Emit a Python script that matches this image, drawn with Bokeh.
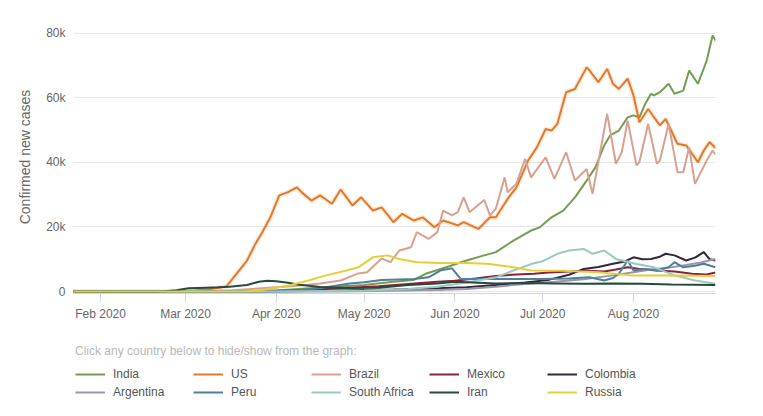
import pandas as pd
from bokeh.plotting import figure
from bokeh.layouts import column
from bokeh.models import (Legend, LegendItem, NumeralTickFormatter, FixedTicker,
                          DatetimeTickFormatter, MonthsTicker, Range1d)
from bokeh.embed import file_html
from bokeh.resources import INLINE

BASE = pd.Timestamp("2020-01-22")

# day offsets since 2020-01-22 and confirmed new cases (thousands)
india_days = [0, 50, 60, 70, 80, 90, 100, 110, 117, 121, 128, 135, 141, 145, 151, 157, 160, 164, 168, 172,
              176, 179, 182, 184, 187, 190, 192, 194, 196, 198, 199, 201, 204, 206, 209, 211, 214, 217, 219, 220]
india_vals = [0, 0, 0.1, 0.3, 0.9, 1.5, 2.0, 3.0, 3.6, 5.5, 7.5, 9.6, 11.2, 12.2, 15.8, 18.9, 19.9, 23, 25.1, 29.2,
              34.4, 38.5, 45.3, 48.4, 49.9, 54, 54.6, 54, 58.2, 61.3, 60.8, 61.8, 64.4, 61.3, 62.3, 68.5, 64.4, 71.6, 79.4, 77.8]

us_days = [0, 20, 35, 42, 47, 51, 53, 56, 60, 63, 65, 68, 71, 74, 77, 79, 82, 85, 89, 92, 96, 99, 103, 106, 110,
           113, 117, 120, 124, 127, 132, 134, 139, 143, 145, 149, 152, 156, 159, 162, 164, 166, 169, 172, 176, 177,
           180, 183, 185, 187, 190, 192, 194, 197, 201, 203, 207, 210, 214, 216, 218, 220]
us_vals = [0, 0, 0.05, 0.3, 0.7, 1.2, 1.6, 5, 9.6, 15, 18, 23, 29.8, 30.8, 32.3, 30.5, 28.2, 29.8, 27.2, 31.6, 26.7,
           29.2, 25.1, 26.1, 21.5, 24.1, 22, 23, 19.9, 22, 20.5, 21.5, 19.4, 23, 23, 28.7, 32.3, 40.6, 44.7, 50.4, 49.9,
           52, 61.8, 62.8, 69.5, 68.5, 64.9, 69, 64.4, 62.8, 66, 60.8, 52.5, 56.6, 51.5, 53.5, 45.8, 45.3, 40.1, 43.7,
           46.3, 44.5]

brazil_days = [0, 35, 45, 55, 65, 75, 80, 85, 92, 98, 101, 106, 109, 112, 116, 118, 122, 125, 127, 130, 132, 134,
               136, 141, 143, 145, 148, 149, 152, 155, 157, 162, 165, 169, 172, 176, 178, 183, 186, 188, 190, 193,
               194, 197, 200, 201, 204, 207, 209, 211, 213, 215, 217, 219, 220]
brazil_vals = [0, 0, 0.1, 0.4, 1.0, 1.6, 2.0, 2.5, 3.4, 5.6, 6, 10.2, 9.1, 12.7, 13.7, 18.4, 16.3, 18.4, 25.1, 23.6,
               24.6, 29.2, 24.6, 28.4, 23.6, 25.7, 35.4, 30.8, 33.4, 41.1, 35.4, 41.6, 34.9, 43.2, 34.4, 38, 30.3, 55.1,
               39.6, 43.2, 53, 39.1, 40.1, 52, 39.6, 40.6, 52, 37, 37, 44.7, 33.4, 37, 40.6, 43.7, 42.5]

mexico_days = [0, 60, 75, 85, 95, 105, 115, 125, 131, 138, 145, 152, 158, 163, 170, 176, 182, 186, 190, 194, 200,
               206, 212, 217, 220]
mexico_vals = [0, 0.1, 0.3, 0.7, 1.2, 1.6, 2.3, 3.0, 3.3, 4.0, 4.8, 5.3, 5.5, 5.9, 6.2, 6.4, 6.2, 6.8, 7.5, 7.0,
               6.5, 6.2, 5.5, 5.3, 5.9]

colombia_days = [0, 70, 90, 110, 125, 135, 145, 155, 163, 170, 175, 180, 185, 189, 192, 195, 198, 201, 203, 206,
                 210, 213, 216, 218, 220]
colombia_vals = [0, 0, 0.3, 0.6, 1.0, 1.3, 2.0, 2.8, 3.6, 5.2, 7.0, 7.6, 8.6, 9.3, 10.6, 10.0, 10.1, 10.8, 11.7,
                 11.2, 9.6, 10.5, 12.2, 10.0, 9.6]

argentina_days = [0, 90, 110, 125, 135, 145, 155, 165, 175, 185, 192, 198, 205, 210, 215, 220]
argentina_vals = [0, 0, 0.2, 0.5, 0.8, 1.5, 2.3, 3.0, 3.8, 5.0, 6.0, 6.8, 7.5, 8.2, 9.0, 10.1]

peru_days = [0, 60, 70, 78, 85, 95, 100, 106, 117, 122, 126, 130, 133, 140, 150, 160, 170, 177, 182, 185, 187,
             190, 192, 196, 200, 204, 206, 209, 213, 216, 220]
peru_vals = [0, 0, 0.1, 0.5, 1.0, 2.5, 2.9, 3.6, 3.9, 4.4, 6.5, 7.2, 3.9, 3.9, 3.9, 3.9, 4.0, 4.4, 3.4, 4.2, 5.5,
             9.6, 6.5, 7.0, 6.5, 7.5, 9.1, 7.5, 8.0, 8.6, 7.5]

safrica_days = [0, 70, 80, 100, 115, 125, 135, 145, 151, 157, 161, 166, 170, 175, 178, 182, 186, 193, 199, 206,
                213, 220]
safrica_vals = [0, 0, 0.1, 0.3, 0.8, 1.5, 2.8, 4.4, 6.5, 8.5, 9.4, 11.7, 12.7, 13.2, 11.7, 12.7, 10.1, 8.5, 7.5,
                5.0, 3.4, 2.4]

iran_days = [0, 28, 32, 36, 40, 46, 50, 54, 60, 64, 67, 70, 74, 78, 85, 95, 105, 115, 125, 131, 137, 145, 155,
             165, 175, 185, 195, 205, 220]
iran_vals = [0, 0, 0.1, 0.4, 1.0, 1.2, 1.3, 1.5, 2.0, 3.0, 3.3, 3.2, 2.7, 2.1, 1.4, 1.1, 1.2, 2.0, 2.5, 3.0, 2.8,
             2.5, 2.6, 2.5, 2.4, 2.5, 2.4, 2.2, 2.0]

russia_days = [0, 60, 65, 69, 75, 81, 87, 94, 98, 103, 108, 112, 118, 126, 135, 142, 151, 157, 168, 180, 191,
               205, 220]
russia_vals = [0, 0.1, 0.5, 1.0, 2.0, 3.4, 5.0, 6.5, 7.5, 10.6, 11.2, 10.1, 9.1, 8.8, 8.8, 8.6, 7.5, 6.5, 6.4, 6.0,
               5.0, 5.0, 4.8]

countries = ["India", "US", "Brazil", "Mexico", "Colombia", "Argentina", "Peru", "South Africa", "Iran", "Russia"]
colors = ["#769b52", "#e07a2a", "#d9a090", "#8b2338", "#33263a", "#9c97a8", "#4f7f9c", "#99cabd", "#264a3e",
          "#e3cf3a"]
series_days = [india_days, us_days, brazil_days, mexico_days, colombia_days, argentina_days, peru_days,
               safrica_days, iran_days, russia_days]
series_vals = [india_vals, us_vals, brazil_vals, mexico_vals, colombia_vals, argentina_vals, peru_vals,
               safrica_vals, iran_vals, russia_vals]

FONT = "Liberation Sans"

p = figure(width=763, height=330, x_axis_type="datetime", output_backend="svg", toolbar_location=None,
           x_range=Range1d(pd.Timestamp("2020-01-22 18:00"), pd.Timestamp("2020-08-29")),
           y_range=Range1d(-620, 84030),
           min_border_left=73, min_border_right=48, min_border_top=20, min_border_bottom=37)
p.outline_line_color = None
p.background_fill_color = "white"
p.border_fill_color = "white"

for name, d, v, c in zip(countries, series_days, series_vals, colors):
    xs = [BASE + pd.Timedelta(days=k) for k in d]
    ys = [val * 1000 for val in v]
    if name == "US":
        p.line(xs, ys, line_color=c, line_width=5, line_alpha=0.15)
    p.line(xs, ys, line_color=c, line_width=2)

# axes
p.xaxis.ticker = MonthsTicker(months=list(range(12)))
p.xaxis.formatter = DatetimeTickFormatter(months="%b %Y", days="%b %Y")
p.xaxis.axis_line_color = "#ccd6eb"
p.xaxis.major_tick_line_color = "#ccd6eb"
p.xaxis.major_tick_out = 9
p.xaxis.major_tick_in = 0
p.xaxis.minor_tick_line_color = None
p.xaxis.major_label_standoff = 4
p.xaxis.major_label_text_font = FONT
p.xaxis.major_label_text_font_size = "12px"
p.xaxis.major_label_text_color = "#666666"

p.yaxis.ticker = FixedTicker(ticks=[0, 20000, 40000, 60000, 80000])
p.yaxis.formatter = NumeralTickFormatter(format="0a")
p.yaxis.axis_line_color = None
p.yaxis.major_tick_line_color = None
p.yaxis.minor_tick_line_color = None
p.yaxis.major_label_standoff = 2
p.yaxis.major_label_text_font = FONT
p.yaxis.major_label_text_font_size = "12px"
p.yaxis.major_label_text_color = "#666666"
p.yaxis.axis_label = "Confirmed new cases"
p.yaxis.axis_label_text_font = FONT
p.yaxis.axis_label_text_font_size = "14px"
p.yaxis.axis_label_text_font_style = "normal"
p.yaxis.axis_label_text_color = "#666666"
p.yaxis.axis_label_standoff = 10

p.xgrid.grid_line_color = None
p.ygrid.grid_line_color = "#e6e6e6"
p.ygrid.ticker = FixedTicker(ticks=[0, 20000, 40000, 60000, 80000])

# legend panel below the chart: same series, drawn outside its visible range
lg = figure(width=763, height=86, output_backend="svg", toolbar_location=None,
            x_axis_location=None, y_axis_location=None, x_range=Range1d(0, 1), y_range=Range1d(-20, -19),
            min_border=0)
lg.outline_line_color = None
lg.grid.visible = False
items = []
for name, d, v, c in zip(countries, series_days, series_vals, colors):
    r = lg.line(d, v, line_color=c, line_width=2)
    items.append(LegendItem(label=name, renderers=[r]))

legend = Legend(items=items, location=(2, 15), orientation="horizontal", ncols=5,
                title="Click any country below to hide/show from the graph:",
                title_text_font=FONT, title_text_font_size="12px", title_text_color="#b8b8b8",
                title_text_font_style="normal", title_standoff=7,
                label_text_font=FONT, label_text_font_size="12px", label_text_color="#555555",
                glyph_width=30, glyph_height=18, label_height=18, label_width=80, label_standoff=8,
                spacing=0, padding=0, margin=0, border_line_color=None, background_fill_alpha=0)
lg.add_layout(legend, "center")

open("out.html", "w").write(file_html(column(p, lg, spacing=0), INLINE))
